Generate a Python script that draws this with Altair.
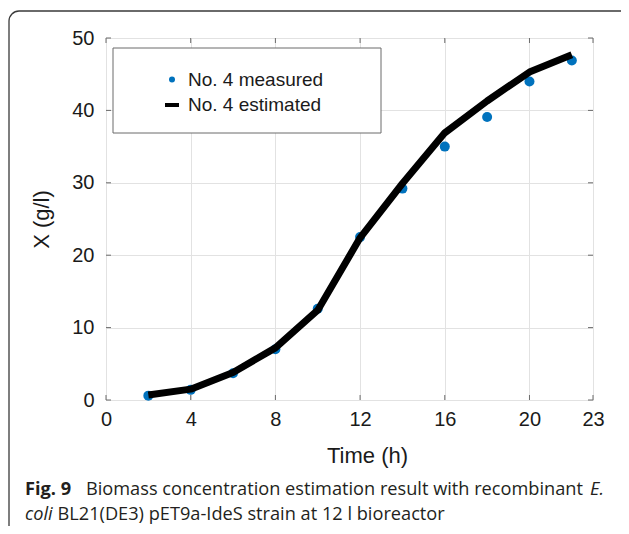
import altair as alt
import pandas as pd

# ---- data ----
time_h = [2, 4, 6, 8, 10, 12, 14, 16, 18, 20, 22]
measured = [0.6, 1.4, 3.7, 7.0, 12.6, 22.5, 29.2, 35.0, 39.1, 44.0, 46.9]
estimated = [0.7, 1.5, 3.8, 7.2, 12.4, 22.4, 29.9, 36.9, 41.3, 45.3, 47.7]
x_ticks = [0, 4, 8, 12, 16, 20, 23]
y_ticks = [0, 10, 20, 30, 40, 50]
legend_labels = ["No. 4 measured", "No. 4 estimated"]
caption_bold = "Fig. 9"
caption_l1 = "Biomass concentration estimation result with recombinant"
caption_l1_it = "E."
caption_l2_it = "coli"
caption_l2 = "BL21(DE3) pET9a-IdeS strain at 12 l bioreactor"

W, H = 487, 362
FONT = "Liberation Sans"
CAP_FONT = "Open Sans"
BLUE = "#0072BD"
BOX = "#6b6b6b"

df = pd.DataFrame({"t": time_h, "meas": measured, "est": estimated})
xt = pd.DataFrame({"v": x_ticks})
yt = pd.DataFrame({"v": y_ticks})

xscale = alt.Scale(domain=[0, 23], nice=False, zero=False)
yscale = alt.Scale(domain=[0, 50], nice=False)

xaxis = alt.Axis(values=x_ticks, title="Time (h)", grid=True, ticks=False, tickSize=0,
                 domain=False, labelPadding=9, labelFontSize=20, labelFont=FONT,
                 labelColor="#1a1a1a", titleFont=FONT, titleFontSize=22,
                 titleFontWeight="normal", titleColor="#1a1a1a",
                 titleX=261, titleY=55, titleBaseline="middle", titleAlign="center",
                 gridColor="#e2e2e2", labelFlush=False)
yaxis = alt.Axis(values=y_ticks, title="X (g/l)", grid=True, ticks=False, tickSize=0,
                 domain=False, labelPadding=12, labelFontSize=20, labelFont=FONT,
                 labelColor="#1a1a1a", titleFont=FONT, titleFontSize=22,
                 titleFontWeight="normal", titleColor="#1a1a1a",
                 titleX=-65, titleY=181, titleAngle=-90, titleBaseline="middle",
                 titleAlign="center", gridColor="#e2e2e2", labelFlush=False)

base = alt.Chart(df)

frame = alt.Chart(pd.DataFrame({"a": [0]})).mark_rect(
    fill=None, stroke="#3a3a3a", strokeWidth=1.3, cornerRadius=10
).encode(x=alt.value(-97), x2=alt.value(620), y=alt.value(-27), y2=alt.value(520))

points = base.mark_circle(size=100, color=BLUE, opacity=1).encode(
    x=alt.X("t:Q", scale=xscale, axis=xaxis),
    y=alt.Y("meas:Q", scale=yscale, axis=yaxis),
)
line = base.mark_line(color="black", strokeWidth=7, strokeJoin="round", strokeCap="butt").encode(
    x=alt.X("t:Q", scale=xscale), y=alt.Y("est:Q", scale=yscale)
)

# inward ticks (MATLAB style box)
tick_b = alt.Chart(xt).mark_rule(color=BOX, strokeWidth=1).encode(
    x=alt.X("v:Q", scale=xscale), y=alt.value(H), y2=alt.value(H - 5))
tick_t = alt.Chart(xt).mark_rule(color=BOX, strokeWidth=1).encode(
    x=alt.X("v:Q", scale=xscale), y=alt.value(0), y2=alt.value(5))
tick_l = alt.Chart(yt).mark_rule(color=BOX, strokeWidth=1).encode(
    y=alt.Y("v:Q", scale=yscale), x=alt.value(0), x2=alt.value(5))
tick_r = alt.Chart(yt).mark_rule(color=BOX, strokeWidth=1).encode(
    y=alt.Y("v:Q", scale=yscale), x=alt.value(W), x2=alt.value(W - 5))

one = alt.Chart(pd.DataFrame({"a": [0]}))
leg_box = one.mark_rect(fill="white", stroke=BOX, strokeWidth=1).encode(
    x=alt.value(7), x2=alt.value(275), y=alt.value(10), y2=alt.value(95))
leg_dot = one.mark_circle(size=36, color=BLUE, opacity=1).encode(
    x=alt.value(66), y=alt.value(41.5))
leg_line = one.mark_rule(color="black", strokeWidth=4).encode(
    x=alt.value(59), x2=alt.value(73), y=alt.value(67))
leg_t1 = one.mark_text(align="left", baseline="middle", font=FONT, fontSize=19,
                       color="#1a1a1a", text=legend_labels[0]).encode(
    x=alt.value(82), y=alt.value(42))
leg_t2 = one.mark_text(align="left", baseline="middle", font=FONT, fontSize=19,
                       color="#1a1a1a", text=legend_labels[1]).encode(
    x=alt.value(82), y=alt.value(67))

cap_kw = dict(align="left", baseline="alphabetic", font=CAP_FONT, fontSize=18.2, color="#231f20")
c1 = one.mark_text(fontWeight="bold", text=caption_bold, **cap_kw).encode(
    x=alt.value(-81), y=alt.value(457))
c2 = one.mark_text(text=caption_l1, **cap_kw).encode(x=alt.value(-20), y=alt.value(457))
c3 = one.mark_text(fontStyle="italic", text=caption_l1_it, **cap_kw).encode(
    x=alt.value(484), y=alt.value(457))
c4 = one.mark_text(fontStyle="italic", text=caption_l2_it, **cap_kw).encode(
    x=alt.value(-81), y=alt.value(482))
c5 = one.mark_text(text=caption_l2, **cap_kw).encode(x=alt.value(-48.5), y=alt.value(482))

chart = alt.layer(
    frame, points, line, tick_b, tick_t, tick_l, tick_r,
    leg_box, leg_dot, leg_line, leg_t1, leg_t2, c1, c2, c3, c4, c5
).properties(
    width=W, height=H,
    autosize=alt.AutoSizeParams(type="none"),
    padding={"left": 98, "top": 30, "right": 28, "bottom": 126},
).configure_view(stroke=BOX, strokeWidth=1).configure(background="white")

chart.save("out.html", embed_options={"renderer": "svg", "actions": False})
